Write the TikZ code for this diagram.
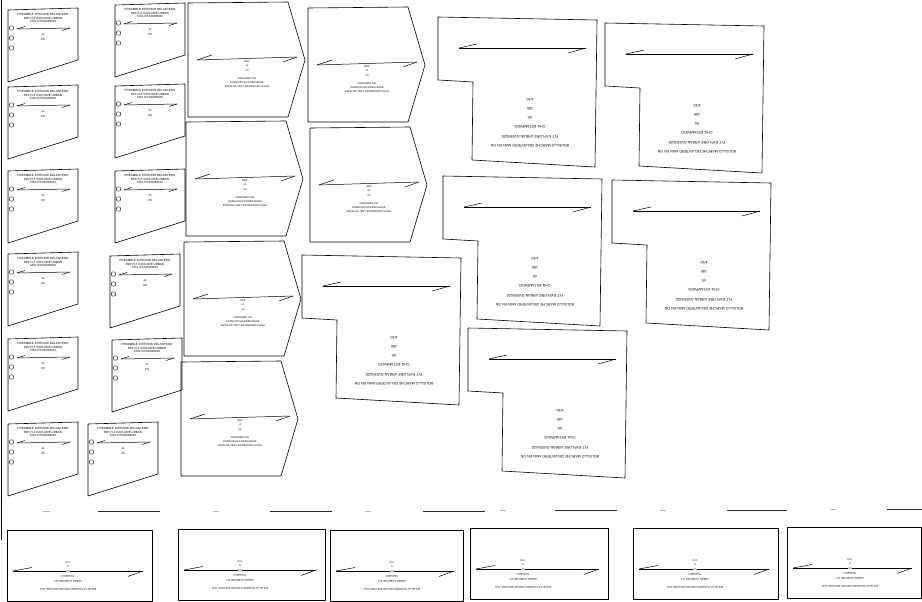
\documentclass[tikz,border=0pt]{standalone}
\usepackage{fontspec}
\setmainfont{Liberation Sans}
\begin{document}
\begin{tikzpicture}[x=1pt,y=-1pt,line join=round,
  edge/.style={draw=black,line width=0.6pt},
  grain/.style={draw=black,line width=0.5pt},
  hole/.style={draw=black,line width=0.4pt},
  frag/.style={draw=black!85,line width=0.9pt},
  fragf/.style={draw=black!30,line width=0.5pt},
  tsmall/.style={font=\fontsize{3}{3.4}\selectfont,inner sep=0pt,align=center},
  tpent/.style={font=\fontsize{2.6}{3}\selectfont,inner sep=0pt},
  tpock/.style={font=\fontsize{3.6}{4}\selectfont,inner sep=0pt,rotate=180},
  tbot/.style={font=\fontsize{2.6}{3}\selectfont,inner sep=0pt},
  pics/smallpiece/.style={code={
    \draw[edge] (0,0) -- (70,-2) -- (70,50) -- (0,72) -- cycle;
    \node[tsmall] (-t) at (35,8) {PREAMBLE INTERIOR DELANTERO\\REF FLT EXPLORE URBAN\\CHIL ESTAMPADO};
    \draw[grain] (9,19) -- (62,18);
    \draw[grain] (9,19) -- (17,16.5);
    \draw[grain] (62,18) -- (54,20.5);
    \node[tsmall] (-q) at (35,24) {1x};
    \node[tsmall] (-s) at (35,29) {XS};
    \draw[hole] (3.5,18) circle[radius=2.3pt];
    \draw[hole] (3.5,28) circle[radius=2.3pt];
    \draw[hole] (3.5,38) circle[radius=2.3pt];
  }},
  pics/pentpiece/.style={code={
    \draw[edge] (0,0) -- (100,-1) -- (117,57) -- (100,114) -- (0,114) -- cycle;
    \draw[grain] (9,57) -- (109,54);
    \draw[grain] (9,57) -- (24,52);
    \draw[grain] (109,54) -- (95,59);
    \node[tpent] (-a) at (59,59) {REF};
    \node[tpent] (-b) at (59,63) {x1};
    \node[tpent] (-c) at (59,67.5) {XS};
    \node[tpent] (-d) at (59,76) {CONSUMO TAL};
    \node[tpent] (-e) at (59,80) {ESPECIFICACIONES BASE};
    \node[tpent] (-f) at (59,84) {ESPALDA TEST ESTAMPADO CHILE};
  }},
  pics/pocket/.style={code={
    \draw[edge] (0,0) -- (159,3) -- (157,150) -- (34,143) -- (35,65) -- (0,63) -- cycle;
    \draw[grain] (21,31) -- (148,31);
    \draw[grain] (21,31) -- (39,27);
    \draw[grain] (148,31) -- (130,36);
    \node[tpock] (-a) at (92,83) {4/10};
    \node[tpock] (-b) at (92,92) {180};
    \node[tpock] (-c) at (92,101) {XS};
    \node[tpock] (-d) at (92,110) {CHIL ESTAMPADO};
    \node[tpock] (-e) at (92,119.5) {FLT EXPLORE URBAN OVERSIZE};
    \node[tpock] (-f) at (92,129) {BOLSILLO MARCHE DELANTERO MAN EN ON};
  }},
  pics/botpiece/.style 2 args={code={
    \draw[edge] (0,0) rectangle (#1,71);
    \draw[grain] (6,41) -- (#1-9,41);
    \draw[grain] (6,41) -- (25,37.5);
    \draw[grain] (#1-9,41) -- (#1-24,46.5);
    \node[tbot] (-a) at (#2,33) {CLC};
    \node[tbot] (-b) at (#2,37) {S};
    \node[tbot,fill=white,inner sep=0.3pt] (-c) at (#2,41.5) {XS};
    \node[tbot,rotate=180] (-d) at (#2,46) {TRASERO};
    \node[tbot,rotate=180] (-e) at (#2,51) {URBAN OVERSIZE FLT};
    \node[tbot,rotate=180] (-f) at (#2,59) {BOLSILLO TRASERO PARCHE EXPLORE CHIL};
  }}
]
\useasboundingbox (0,0) rectangle (922,602);
\clip (0,0) rectangle (922,602);
\fill[white] (0,0) rectangle (922,602);

% left border line
\draw[edge] (1,0) -- (1,540);

% small pieces, column A
\pic (sa1) at (8,10) {smallpiece};
\pic (sa2) at (8,87) {smallpiece};
\pic (sa3) at (8,171) {smallpiece};
\pic (sa4) at (8,254) {smallpiece};
\pic (sa5) at (8,339) {smallpiece};
\pic (sa6) at (8,424) {smallpiece};
% small pieces, column B
\pic (sb1) at (115,5) {smallpiece};
\pic (sb2) at (115,86) {smallpiece};
\pic (sb3) at (115,171) {smallpiece};
\pic (sb4) at (110,256) {smallpiece};
\pic (sb5) at (112,340) {smallpiece};
\pic (sb6) at (88,424) {smallpiece};

% pentagon pieces
\pic (pc1) at (188,3) {pentpiece};
\pic (pc2) at (186,122) {pentpiece};
\pic (pc3) at (184,242) {pentpiece};
\pic (pc4) at (181,362) {pentpiece};
\pic (pd1) at (308,8) {pentpiece};
\pic (pd2) at (310,128) {pentpiece};

% pocket pieces
\pic (pk1) at (438,17) {pocket};
\pic (pk2) at (605,23) {pocket};
\pic (pk3) at (443,176) {pocket};
\pic (pk4) at (612,180) {pocket};
\pic (pk5) at (302,255) {pocket};
\pic (pk6) at (468,328) {pocket};

% fragments of a strip
\draw[frag] (98,511) -- (160,511);
\draw[frag] (270,511) -- (332,511);
\draw[frag] (423,511) -- (485,511);
\draw[frag] (555,510) -- (617,510);
\draw[frag] (727,510) -- (787,510);
\draw[frag] (887,509) -- (922,509);
\draw[fragf] (43,511) -- (50,511);
\draw[fragf] (213,511) -- (219,511);
\draw[fragf] (365,511) -- (371,511);
\draw[fragf] (500,510) -- (506,510);
\draw[fragf] (660,510) -- (666,510);
\draw[fragf] (830,509) -- (836,509);

% bottom pieces
\pic (bt1) at (7,530) {botpiece={145}{61}};
\pic (bt2) at (178,529) {botpiece={147}{62}};
\pic (bt3) at (330,530) {botpiece={133}{62}};
\pic (bt4) at (470,528) {botpiece={138}{53}};
\pic (bt5) at (633,528) {botpiece={145}{62}};
\pic (bt6) at (787,527) {botpiece={134}{63}};
\end{tikzpicture}
\end{document}
